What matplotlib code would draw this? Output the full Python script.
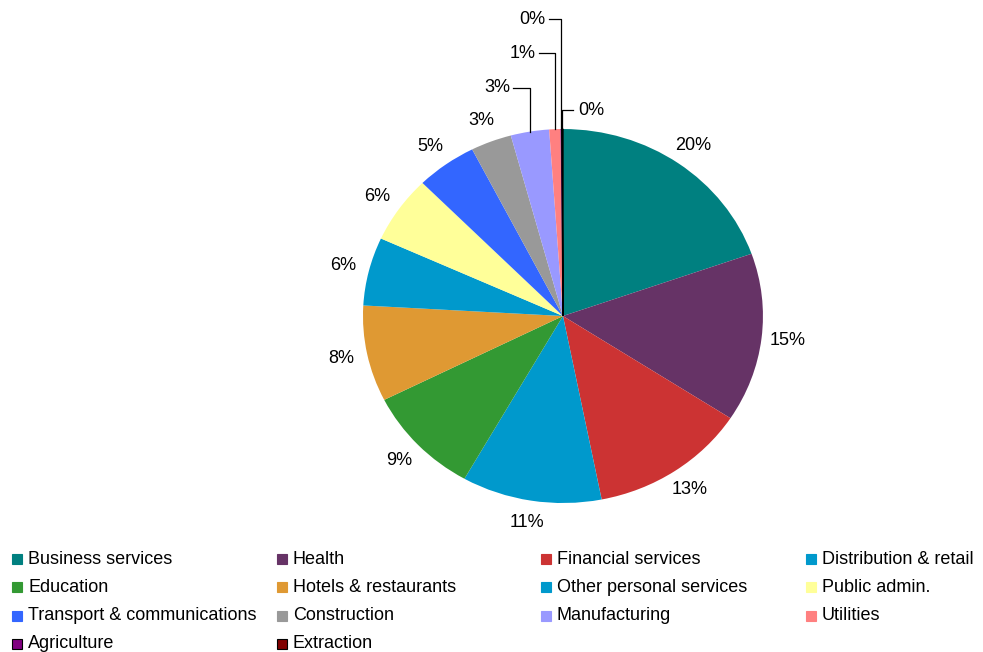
import matplotlib.pyplot as plt
import numpy as np
from matplotlib.patches import Rectangle

plt.rcParams['font.family'] = ['Liberation Sans', 'DejaVu Sans']

# sectors, clockwise from 12 o'clock
sectors = ['Business services', 'Health', 'Financial services', 'Distribution & retail',
           'Education', 'Hotels & restaurants', 'Other personal services', 'Public admin.',
           'Transport & communications', 'Construction', 'Manufacturing', 'Utilities',
           'Agriculture', 'Extraction']
shares = [19.6, 14.6, 12.7, 11.3, 9.4, 8.3, 5.9, 5.8, 4.9, 3.3, 3.1, 0.9, 0.1, 0.1]
colors = ['#008080', '#663366', '#CC3333', '#0099CC', '#339933', '#DF9933', '#0099CC',
          '#FFFF99', '#3366FF', '#999999', '#9999FF', '#FF8080', '#800080', '#800000']

# small slices get a label pulled out with an elbow leader line
# index: (text x, text y, ha, leader start x) in data units
pulled = {10: (-0.265, 1.22, 'right', -0.25),
          11: (-0.135, 1.406, 'right', -0.12),
          12: (-0.09, 1.588, 'right', -0.07),
          13: (0.075, 1.10, 'left', 0.05)}

fig = plt.figure(figsize=(9.83, 6.52), dpi=100)
ax = fig.add_axes([0.3184, 0.1568, 0.5086, 0.717])

wedges, _ = ax.pie(shares, colors=colors, startangle=90, counterclock=False)
ax.set_aspect('auto')
ax.set_xlim(-1.25, 1.25)
ax.set_ylim(-1.25, 1.25)
wedges[-1].set_edgecolor('black')
wedges[-1].set_linewidth(1)

total = sum(shares)
for i, w in enumerate(wedges):
    pct = f"{shares[i] / total * 100:.0f}%"
    mid = np.deg2rad((w.theta1 + w.theta2) / 2)
    x0, y0 = np.cos(mid), np.sin(mid)
    if i in pulled:
        tx, ty, ha, lx = pulled[i]
        ax.plot([x0, x0, lx], [y0, ty, ty], color='black', lw=0.9, clip_on=False)
        ax.text(tx, ty, pct, ha=ha, va='center', fontsize=13)
    else:
        ax.text(1.13 * x0, 1.12 * y0, pct, ha='center', va='center', fontsize=13)

# legend drawn as a grid of equal-width columns, row by row
col_x = [12, 277, 541, 806]
row_y = [559, 587, 616, 644]
W, H = 983.0, 652.0
for k, name in enumerate(sectors):
    r, c = divmod(k, 4)
    x, y = col_x[c], row_y[r]
    edge = 'black' if name in ('Agriculture', 'Extraction') else colors[k]
    fig.patches.append(Rectangle((x / W, (H - y - 5) / H), 10 / W, 10 / H,
                                 facecolor=colors[k], edgecolor=edge, lw=0.8,
                                 transform=fig.transFigure))
    fig.text((x + 16) / W, (H - y) / H, name, ha='left', va='center', fontsize=13)

fig.savefig('out.png', dpi=100)
